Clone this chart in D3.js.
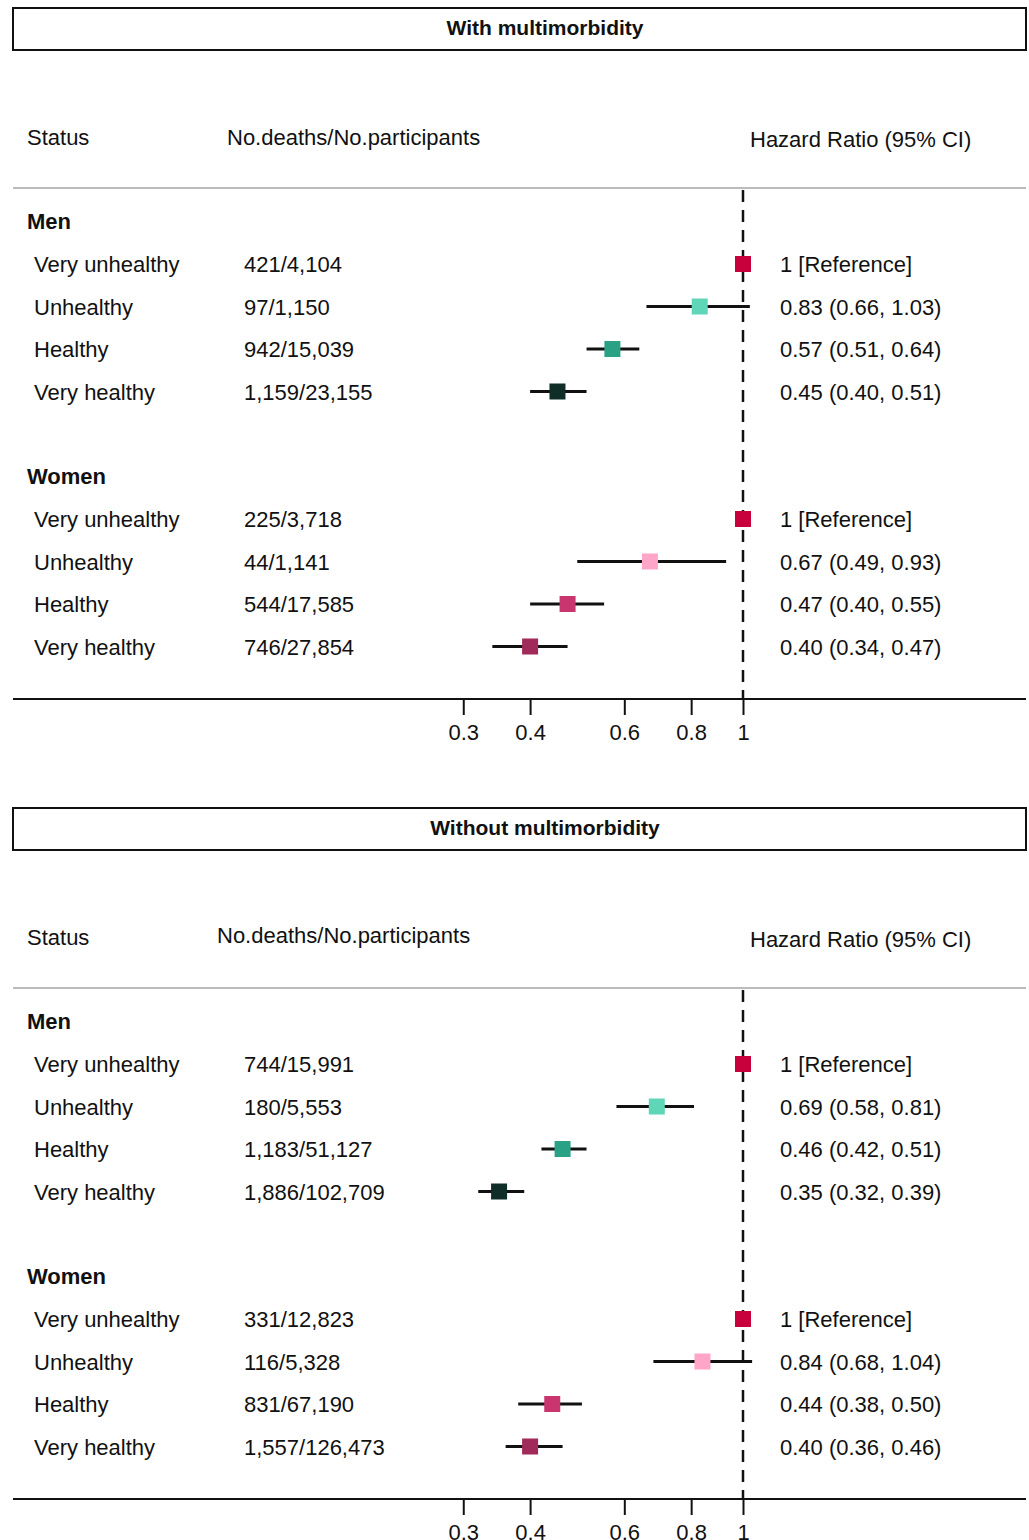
<!DOCTYPE html>
<html><head><meta charset="utf-8">
<script src="https://cdn.jsdelivr.net/npm/d3@7"></script>
<style>body{margin:0;background:#fff}text{font-family:"Liberation Sans",Arial,sans-serif;fill:#111}</style>
</head><body>
<script>
const panels = ["With multimorbidity", "Without multimorbidity"];
const groups = ["Men", "Women"];
const statuses = ["Very unhealthy", "Unhealthy", "Healthy", "Very healthy"];
const counts = [
  [["421/4,104", "97/1,150", "942/15,039", "1,159/23,155"],
   ["225/3,718", "44/1,141", "544/17,585", "746/27,854"]],
  [["744/15,991", "180/5,553", "1,183/51,127", "1,886/102,709"],
   ["331/12,823", "116/5,328", "831/67,190", "1,557/126,473"]]
];
const hr = [
  [[[1, 1, 1], [0.83, 0.66, 1.03], [0.57, 0.51, 0.64], [0.45, 0.40, 0.51]],
   [[1, 1, 1], [0.67, 0.49, 0.93], [0.47, 0.40, 0.55], [0.40, 0.34, 0.47]]],
  [[[1, 1, 1], [0.69, 0.58, 0.81], [0.46, 0.42, 0.51], [0.35, 0.32, 0.39]],
   [[1, 1, 1], [0.84, 0.68, 1.04], [0.44, 0.38, 0.50], [0.40, 0.36, 0.46]]]
];
const colors = [["#c8003c", "#5fd6b8", "#2aa085", "#0f2e28"],
                ["#c8003c", "#ffa6c8", "#c9356e", "#a02a5a"]];
const ticks = [0.3, 0.4, 0.6, 0.8, 1];

const svg = d3.select("body").append("svg").attr("width", 1029).attr("height", 1540);
const x = d3.scaleLog().domain([0.3, 1]).range([743 - 535 * Math.log10(1 / 0.3), 743]);
const fmt = v => v.toFixed(2);
const fs = 22;

panels.forEach((title, p) => {
  const g = svg.append("g").attr("transform", `translate(0,${p * 800})`);
  g.append("rect").attr("x", 13).attr("y", 8).attr("width", 1013).attr("height", 42)
    .attr("fill", "none").attr("stroke", "#111").attr("stroke-width", 2);
  g.append("text").attr("x", 545).attr("y", 35).attr("text-anchor", "middle")
    .attr("font-weight", "bold").attr("font-size", 21).text(title);
  g.append("text").attr("x", 27).attr("y", 145).attr("font-size", fs).text("Status");
  g.append("text").attr("x", p ? 217 : 227).attr("y", p ? 143 : 145).attr("font-size", fs).text("No.deaths/No.participants");
  g.append("text").attr("x", 750).attr("y", 147).attr("font-size", fs).text("Hazard Ratio (95% CI)");
  g.append("line").attr("x1", 13).attr("x2", 1026).attr("y1", 188).attr("y2", 188)
    .attr("stroke", "#bbb").attr("stroke-width", 2);
  g.append("line").attr("x1", x(1)).attr("x2", x(1)).attr("y1", 190).attr("y2", 699)
    .attr("stroke", "#111").attr("stroke-width", 2.5).attr("stroke-dasharray", "12,8");

  groups.forEach((grp, gi) => {
    const y0 = 221 + gi * 255;
    g.append("text").attr("x", 27).attr("y", y0 + 8).attr("font-size", fs)
      .attr("font-weight", "bold").text(grp);
    statuses.forEach((s, i) => {
      const y = y0 + 43 + i * 42.5;
      const [h, lo, hi] = hr[p][gi][i];
      g.append("text").attr("x", 34).attr("y", y + 8).attr("font-size", fs).text(s);
      g.append("text").attr("x", 244).attr("y", y + 8).attr("font-size", fs).text(counts[p][gi][i]);
      g.append("text").attr("x", 780).attr("y", y + 8).attr("font-size", fs)
        .text(i === 0 ? "1 [Reference]" : `${fmt(h)} (${fmt(lo)}, ${fmt(hi)})`);
      if (lo !== hi) g.append("line").attr("x1", x(lo)).attr("x2", x(hi)).attr("y1", y).attr("y2", y)
        .attr("stroke", "#111").attr("stroke-width", 3);
      g.append("rect").attr("x", x(h) - 8).attr("y", y - 8).attr("width", 16).attr("height", 16)
        .attr("fill", colors[gi][i]);
    });
  });

  const ax = g.append("g").attr("transform", "translate(0,699)")
    .call(d3.axisBottom(x).tickValues(ticks).tickFormat(d3.format("")).tickSize(16).tickSizeOuter(0));
  ax.select(".domain").remove();
  ax.selectAll("line").attr("stroke", "#111").attr("stroke-width", 2);
  ax.selectAll("text").attr("font-size", fs).attr("y", 41).attr("dy", 0).attr("fill", "#111")
    .style("font-family", '"Liberation Sans",Arial,sans-serif');
  g.append("line").attr("x1", 13).attr("x2", 1026).attr("y1", 699).attr("y2", 699)
    .attr("stroke", "#111").attr("stroke-width", 2);
});
</script>
</body></html>
